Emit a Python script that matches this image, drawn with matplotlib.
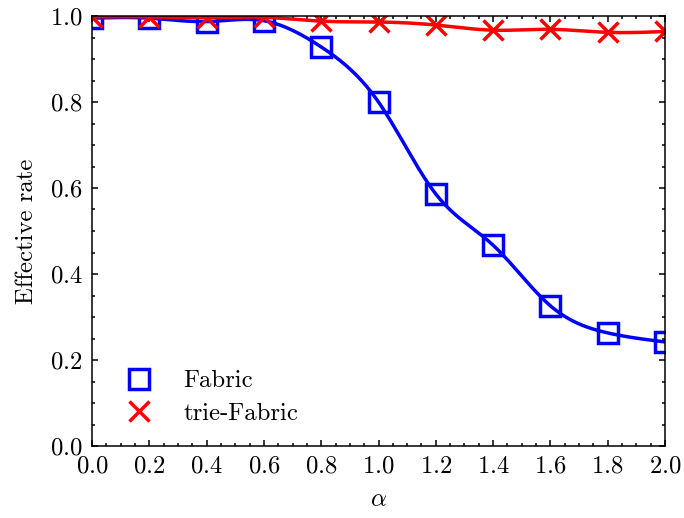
import numpy as np
import matplotlib
matplotlib.use("Agg")
import matplotlib.pyplot as plt
from matplotlib.ticker import MultipleLocator

# Measured effective rates versus alpha
alpha = [0.0, 0.2, 0.4, 0.6, 0.8, 1.0, 1.2, 1.4, 1.6, 1.8, 2.0]
fabric = [0.995, 0.995, 0.987, 0.989, 0.928, 0.800, 0.586, 0.467, 0.326, 0.263, 0.242]
trie_fabric = [0.998, 0.998, 0.996, 0.997, 0.988, 0.986, 0.979, 0.967, 0.969, 0.962, 0.964]

series_labels = ["Fabric", "trie-Fabric"]
series_colors = ["#0000ff", "#ff0000"]
series_markers = ["s", "x"]


def natural_cubic_spline(x, y, xs):
    """Evaluate a natural cubic spline through (x, y) at xs."""
    x = np.asarray(x, float)
    y = np.asarray(y, float)
    n = len(x)
    h = np.diff(x)
    A = np.zeros((n, n))
    b = np.zeros(n)
    A[0, 0] = 1.0
    A[-1, -1] = 1.0
    for i in range(1, n - 1):
        A[i, i - 1] = h[i - 1]
        A[i, i] = 2 * (h[i - 1] + h[i])
        A[i, i + 1] = h[i]
        b[i] = 3 * ((y[i + 1] - y[i]) / h[i] - (y[i] - y[i - 1]) / h[i - 1])
    c = np.linalg.solve(A, b)
    bcoef = (y[1:] - y[:-1]) / h - h * (2 * c[:-1] + c[1:]) / 3
    dcoef = (c[1:] - c[:-1]) / (3 * h)
    idx = np.clip(np.searchsorted(x, xs) - 1, 0, n - 2)
    t = xs - x[idx]
    return y[idx] + bcoef[idx] * t + c[idx] * t ** 2 + dcoef[idx] * t ** 3


plt.rcParams.update({
    "font.family": "serif",
    "font.serif": ["cmr10"],
    "mathtext.fontset": "cm",
    "axes.formatter.use_mathtext": True,
    "axes.unicode_minus": False,
    "font.size": 8.9,
    "axes.linewidth": 0.55,
    "xtick.direction": "in",
    "ytick.direction": "in",
    "xtick.top": True,
    "ytick.right": True,
    "xtick.major.size": 2.2,
    "ytick.major.size": 2.2,
    "xtick.minor.size": 1.2,
    "ytick.minor.size": 1.2,
    "xtick.major.width": 0.55,
    "ytick.major.width": 0.55,
    "xtick.minor.width": 0.55,
    "ytick.minor.width": 0.55,
})

fig = plt.figure(figsize=(684 / 200, 518 / 200), dpi=200)
ax = fig.add_axes([92 / 684, 1 - 446 / 518, (665 - 92) / 684, (446 - 16) / 518])

xs = np.linspace(min(alpha), max(alpha), 400)
for ys, lab, col, mk in zip([fabric, trie_fabric], series_labels, series_colors, series_markers):
    ax.plot(xs, natural_cubic_spline(alpha, ys, xs), color=col, lw=1.25)
    ax.plot(alpha, ys, linestyle="none", marker=mk, markersize=7.3,
            markerfacecolor="none", markeredgecolor=col, markeredgewidth=1.25,
            label=lab)

ax.set_xlim(0, 2.0)
ax.set_ylim(0, 1.0)
ax.xaxis.set_major_locator(MultipleLocator(0.2))
ax.xaxis.set_minor_locator(MultipleLocator(0.05))
ax.yaxis.set_major_locator(MultipleLocator(0.2))
ax.yaxis.set_minor_locator(MultipleLocator(0.05))
ax.set_xlabel(r"$\alpha$")
ax.set_ylabel("Effective rate")

ax.legend(loc="lower left", frameon=False, bbox_to_anchor=(0.0, -0.002),
          handletextpad=0.8, labelspacing=0.4)

fig.savefig("out.png", dpi=200)
